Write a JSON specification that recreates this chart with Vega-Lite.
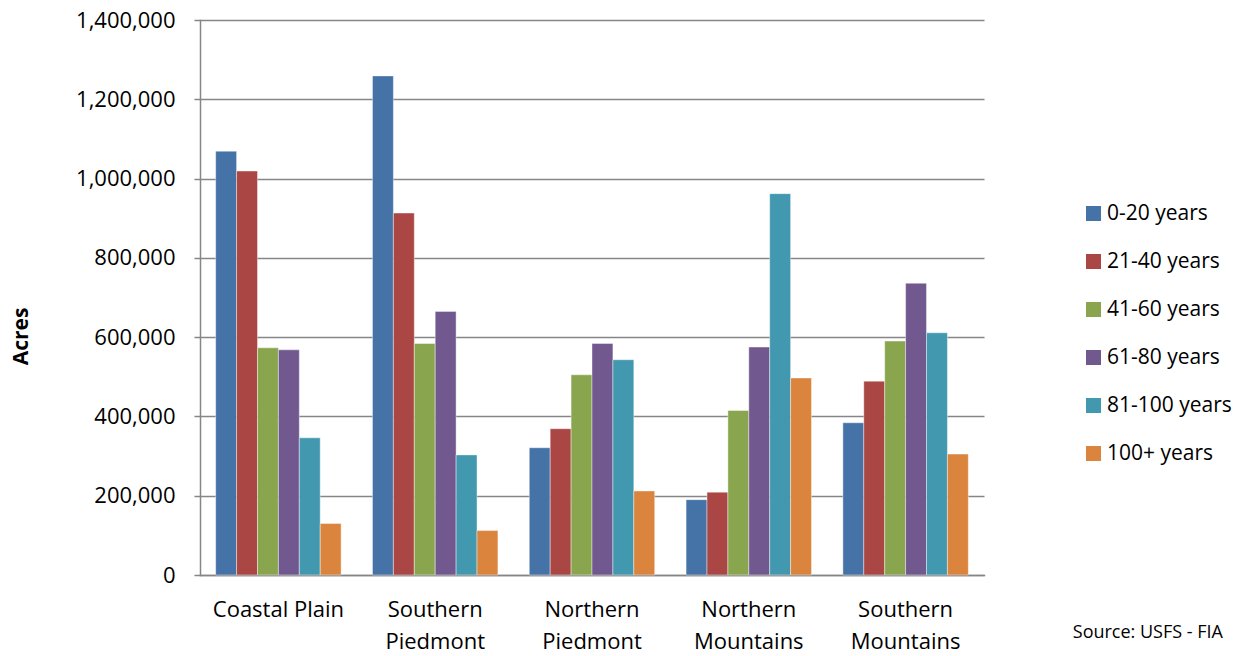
{
  "$schema": "https://vega.github.io/schema/vega-lite/v6.json",
  "width": 784,
  "height": 555,
  "autosize": {"type": "none"},
  "padding": {"left": 200, "top": 20, "right": 275, "bottom": 81},
  "background": "white",
  "title": {
    "text": "Source: USFS - FIA",
    "orient": "bottom",
    "anchor": "end",
    "frame": "group",
    "font": "Open Sans",
    "fontSize": 18,
    "fontWeight": "normal",
    "color": "#000000",
    "dx": 239,
    "offset": -28
  },
  "data": {
    "values": [
      {"region": "Coastal Plain", "age": "0-20 years", "acres": 1069000},
      {"region": "Coastal Plain", "age": "21-40 years", "acres": 1019000},
      {"region": "Coastal Plain", "age": "41-60 years", "acres": 573000},
      {"region": "Coastal Plain", "age": "61-80 years", "acres": 568000},
      {"region": "Coastal Plain", "age": "81-100 years", "acres": 346000},
      {"region": "Coastal Plain", "age": "100+ years", "acres": 130000},
      {"region": "Southern Piedmont", "age": "0-20 years", "acres": 1259000},
      {"region": "Southern Piedmont", "age": "21-40 years", "acres": 913000},
      {"region": "Southern Piedmont", "age": "41-60 years", "acres": 584000},
      {"region": "Southern Piedmont", "age": "61-80 years", "acres": 665000},
      {"region": "Southern Piedmont", "age": "81-100 years", "acres": 303000},
      {"region": "Southern Piedmont", "age": "100+ years", "acres": 112000},
      {"region": "Northern Piedmont", "age": "0-20 years", "acres": 321000},
      {"region": "Northern Piedmont", "age": "21-40 years", "acres": 369000},
      {"region": "Northern Piedmont", "age": "41-60 years", "acres": 505000},
      {"region": "Northern Piedmont", "age": "61-80 years", "acres": 584000},
      {"region": "Northern Piedmont", "age": "81-100 years", "acres": 543000},
      {"region": "Northern Piedmont", "age": "100+ years", "acres": 212000},
      {"region": "Northern Mountains", "age": "0-20 years", "acres": 190000},
      {"region": "Northern Mountains", "age": "21-40 years", "acres": 209000},
      {"region": "Northern Mountains", "age": "41-60 years", "acres": 415000},
      {"region": "Northern Mountains", "age": "61-80 years", "acres": 575000},
      {"region": "Northern Mountains", "age": "81-100 years", "acres": 962000},
      {"region": "Northern Mountains", "age": "100+ years", "acres": 497000},
      {"region": "Southern Mountains", "age": "0-20 years", "acres": 384000},
      {"region": "Southern Mountains", "age": "21-40 years", "acres": 489000},
      {"region": "Southern Mountains", "age": "41-60 years", "acres": 590000},
      {"region": "Southern Mountains", "age": "61-80 years", "acres": 736000},
      {"region": "Southern Mountains", "age": "81-100 years", "acres": 611000},
      {"region": "Southern Mountains", "age": "100+ years", "acres": 305000}
    ]
  },
  "mark": {"type": "bar", "stroke": "#ffffff", "strokeWidth": 0.7, "strokeOpacity": 0.6},
  "encoding": {
    "x": {
      "field": "region",
      "type": "nominal",
      "sort": ["Coastal Plain", "Southern Piedmont", "Northern Piedmont", "Northern Mountains", "Southern Mountains"],
      "scale": {"paddingInner": 0.2, "paddingOuter": 0.1},
      "axis": {
        "title": null,
        "labelAngle": 0,
        "labelExpr": "datum.label == 'Coastal Plain' ? datum.label : split(datum.label, ' ')",
        "labelFont": "Open Sans",
        "labelFontSize": 22,
        "labelColor": "#000000",
        "labelLineHeight": 32,
        "labelPadding": 24,
        "ticks": false,
        "domainColor": "#868686",
        "domainWidth": 1.5,
        "grid": false
      }
    },
    "xOffset": {
      "field": "age",
      "type": "nominal",
      "sort": ["0-20 years", "21-40 years", "41-60 years", "61-80 years", "81-100 years", "100+ years"],
      "scale": {"paddingInner": 0, "paddingOuter": 0}
    },
    "y": {
      "field": "acres",
      "type": "quantitative",
      "scale": {"domain": [0, 1400000], "nice": false},
      "axis": {
        "title": "Acres",
        "titleFont": "Open Sans",
        "titleFontSize": 21,
        "titleFontWeight": "bold",
        "titleColor": "#000000",
        "titleX": -169,
        "titleY": 316,
        "titleBaseline": "bottom",
        "values": [0, 200000, 400000, 600000, 800000, 1000000, 1200000, 1400000],
        "format": ",d",
        "labelFont": "Open Sans",
        "labelFontSize": 22,
        "labelColor": "#000000",
        "labelPadding": 19,
        "tickSize": 6,
        "tickColor": "#868686",
        "tickWidth": 1.5,
        "domainColor": "#868686",
        "domainWidth": 1.5,
        "grid": true,
        "gridColor": "#868686",
        "gridWidth": 1.5
      }
    },
    "color": {
      "field": "age",
      "type": "nominal",
      "sort": ["0-20 years", "21-40 years", "41-60 years", "61-80 years", "81-100 years", "100+ years"],
      "scale": {
        "domain": ["0-20 years", "21-40 years", "41-60 years", "61-80 years", "81-100 years", "100+ years"],
        "range": ["#4572A7", "#AA4643", "#89A54E", "#71588F", "#4198AF", "#DB843D"]
      },
      "legend": {
        "title": null,
        "orient": "none",
        "legendX": 883,
        "legendY": 183,
        "symbolType": "square",
        "symbolSize": 225,
        "symbolStrokeWidth": 0,
        "symbolOpacity": 1,
        "labelFont": "Open Sans",
        "labelFontSize": 21,
        "labelColor": "#000000",
        "labelOffset": 3,
        "rowPadding": 26,
        "padding": 0
      }
    }
  },
  "config": {
    "view": {"stroke": null},
    "axis": {"domainCap": "square"}
  }
}
